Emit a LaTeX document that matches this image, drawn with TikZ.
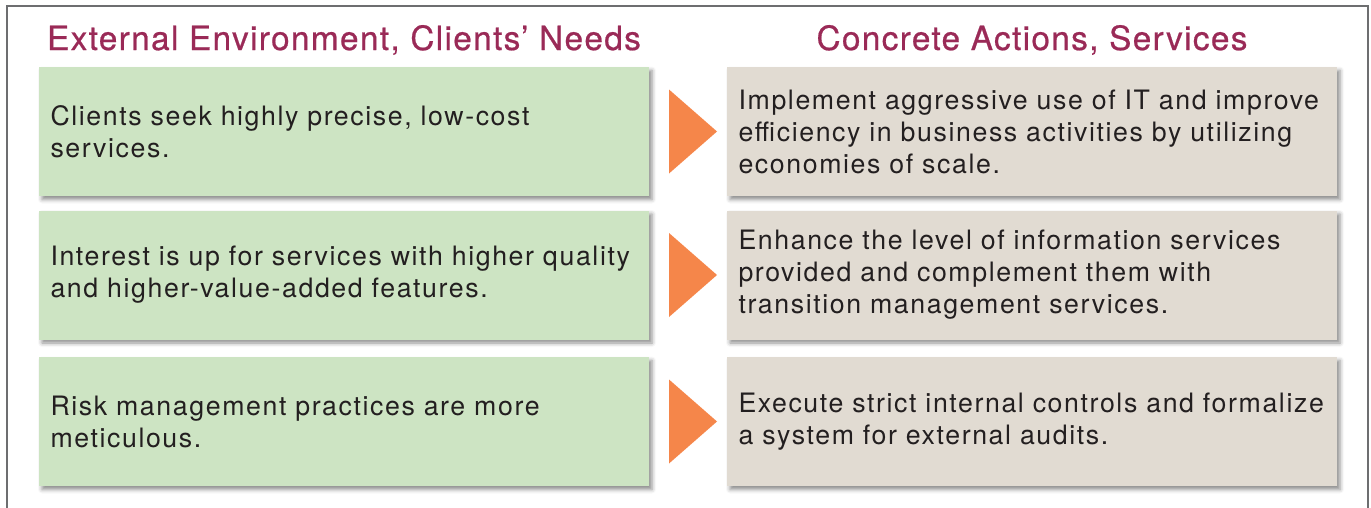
\documentclass[tikz,border=0pt]{standalone}
\usepackage{fontspec}
\setmainfont{TeX Gyre Heros}
\newfontfamily\bodyfont[LetterSpace=6]{TeX Gyre Heros}
\newfontfamily\headfont[LetterSpace=4, FakeBold=0.6]{TeX Gyre Heros}
\usepackage{tikz}
\usetikzlibrary{shadows.blur}

\definecolor{titlered}{HTML}{9A2A57}
\definecolor{needgreen}{HTML}{CDE4C3}
\definecolor{actionbeige}{HTML}{E1DBD2}
\definecolor{pointerorange}{HTML}{F5864A}
\definecolor{textgray}{HTML}{231F20}
\definecolor{framegray}{HTML}{6D6E70}

\begin{document}
\begin{tikzpicture}
			\tikzset{box/.style = {inner xsep=0.23cm, inner ysep=0pt,
			text width=11.74cm, minimum height=2.58cm, align=left,
			text=textgray, font=\bodyfont\fontsize{15.2pt}{18.2pt}\selectfont,
			blur shadow={shadow xshift=0.06cm, shadow yshift=-0.07cm,
			shadow blur radius=0.08cm, shadow opacity=45}},
			need/.style = {box, fill=needgreen},
			action/.style = {box, fill=actionbeige},
			heading/.style = {anchor=base, text=titlered,
			font=\headfont\fontsize{19pt}{22pt}\selectfont}}
			
			\useasboundingbox (0, 0) rectangle (27.42, -10.16);
			\draw[framegray, line width=0.8pt] (0.14, -10.3) -- (0.14, -0.12)
			-- (27.36, -0.12) -- (27.36, -10.3);
			
			\node[heading] (t_needs) at (6.88, -1.0)
			{External Environment, Clients’ Needs};
			\node[heading] (t_actions) at (20.64, -1.0)
			{Concrete Actions, Services};
			
			\node[need] (n_cost) at (6.88, -2.63)
			{Clients seek highly precise, low-cost\\services.};
			\node[need] (n_value) at (6.88, -5.5)
			{Interest is up for services with higher quality\\and
			higher-value-added features.};
			\node[need] (n_risk) at (6.88, -8.43)
			{Risk management practices are more\\meticulous.};
			
			\node[action] (a_it) at (20.64, -2.63)
			{Implement aggressive use of IT and improve\\efficiency in
			business activities by utilizing\\economies of scale.};
			\node[action] (a_info) at (20.64, -5.5)
			{Enhance the level of information services\\provided and
			complement them with\\transition management services.};
			\node[action] (a_audit) at (20.64, -8.43)
			{Execute strict internal controls and formalize\\a system for
			external audits.};
			
			\fill[pointerorange] (13.38, -1.79) -- (14.34, -2.63)
			-- (13.38, -3.47) -- cycle;
			\fill[pointerorange] (13.38, -4.66) -- (14.34, -5.5)
			-- (13.38, -6.34) -- cycle;
			\fill[pointerorange] (13.38, -7.59) -- (14.34, -8.43)
			-- (13.38, -9.27) -- cycle;
		\end{tikzpicture}
\end{document}
